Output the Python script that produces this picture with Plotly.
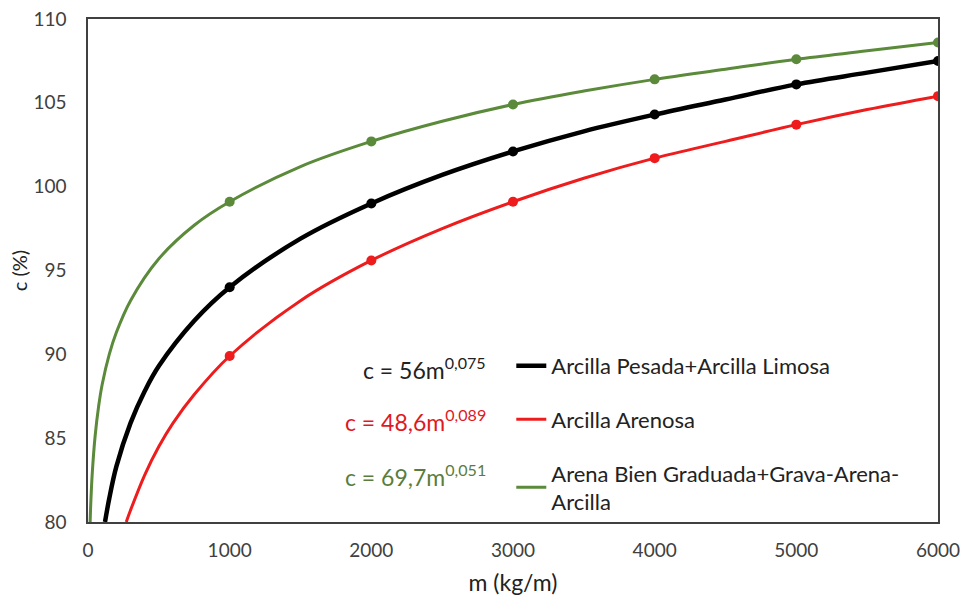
import plotly.graph_objects as go

# Values (m in kg/m, c in %)
m_black = [120, 150, 200, 300, 400, 500, 750, 1000, 1500, 2000, 2500, 3000, 3500, 4000, 4500, 5000, 5500, 6000]
c_black = [80.0, 81.4, 83.3, 85.9, 87.8, 89.3, 92.0, 94.0, 96.9, 99.0, 100.7, 102.1, 103.3, 104.3, 105.2, 106.1, 106.8, 107.5]

m_red = [270, 300, 400, 500, 600, 750, 1000, 1500, 2000, 2500, 3000, 3500, 4000, 4500, 5000, 5500, 6000]
c_red = [80.0, 80.7, 82.8, 84.5, 85.9, 87.6, 89.9, 93.2, 95.6, 97.5, 99.1, 100.5, 101.7, 102.7, 103.7, 104.6, 105.4]

m_green = [15, 20, 30, 50, 75, 100, 150, 200, 300, 500, 750, 1000, 1500, 2000, 2500, 3000, 3500, 4000, 4500, 5000, 5500, 6000]
c_green = [80.0, 81.2, 82.9, 85.1, 86.9, 88.2, 90.0, 91.3, 93.2, 95.7, 97.7, 99.1, 101.2, 102.7, 103.9, 104.9, 105.7, 106.4, 107.0, 107.6, 108.1, 108.6]

marker_m = [1000, 2000, 3000, 4000, 5000, 6000]

names = ["Arcilla Pesada+Arcilla Limosa", "Arcilla Arenosa", "Arena Bien Graduada+Grava-Arena-<br>Arcilla"]
equations = ["c = 56m<sup>0,075</sup>", "c = 48,6m<sup>0,089</sup>", "c = 69,7m<sup>0,051</sup>"]
colors = ["#000000", "#EE1C1C", "#5A8A3A"]
eq_colors = ["#222222", "#E0191F", "#5A7D3E"]
widths = [4.5, 3, 3]

x_ticks = [0, 1000, 2000, 3000, 4000, 5000, 6000]
y_ticks = [80, 85, 90, 95, 100, 105, 110]

FONT = "Lato, 'Open Sans', sans-serif"
fig = go.Figure()
series = [(m_black, c_black), (m_red, c_red), (m_green, c_green)]
for i, (mx, cy) in enumerate(series):
    fig.add_trace(go.Scatter(x=mx, y=cy, mode="lines", name=names[i],
                             line=dict(color=colors[i], width=widths[i], shape="spline"),
                             legendgroup=str(i)))
    mk_x = [v for v in mx if v in marker_m]
    mk_y = [cy[k] for k, v in enumerate(mx) if v in marker_m]
    fig.add_trace(go.Scatter(x=mk_x, y=mk_y, mode="markers", showlegend=False,
                             marker=dict(color=colors[i], size=10), legendgroup=str(i)))

eq_y = [0.306, 0.2008, 0.0915]
for i in range(3):
    fig.add_annotation(x=0.471, y=eq_y[i], xref="paper", yref="paper", text=equations[i],
                       showarrow=False, xanchor="right", yanchor="middle",
                       font=dict(family=FONT, size=23, color=eq_colors[i]))

fig.update_layout(
    width=961, height=598,
    margin=dict(l=88, r=23, t=19, b=76),
    plot_bgcolor="white", paper_bgcolor="white",
    font=dict(family=FONT, color="#404040"),
    legend=dict(x=0.498, y=0.352, xanchor="left", yanchor="top", bgcolor="rgba(0,0,0,0)",
                font=dict(family=FONT, size=22, color="#222222"), tracegroupgap=22),
    xaxis=dict(range=[0, 6000], tickvals=x_ticks, showgrid=False, zeroline=False,
               showline=True, mirror=True, linecolor="#404040", linewidth=1.5,
               ticks="", ticklabelstandoff=10, automargin=False,
               tickfont=dict(size=19, color="#404040"),
               title=dict(text="m (kg/m)", font=dict(size=23, color="#222222"), standoff=15)),
    yaxis=dict(range=[80, 110], tickvals=y_ticks, showgrid=False, zeroline=False,
               showline=True, mirror=True, linecolor="#404040", linewidth=1.5,
               ticks="", ticklabelstandoff=16, automargin=False,
               tickfont=dict(size=19, color="#404040"),
               title=dict(text="c (%)", font=dict(size=20, color="#222222"), standoff=0)),
)

fig.write_html("out.html")
